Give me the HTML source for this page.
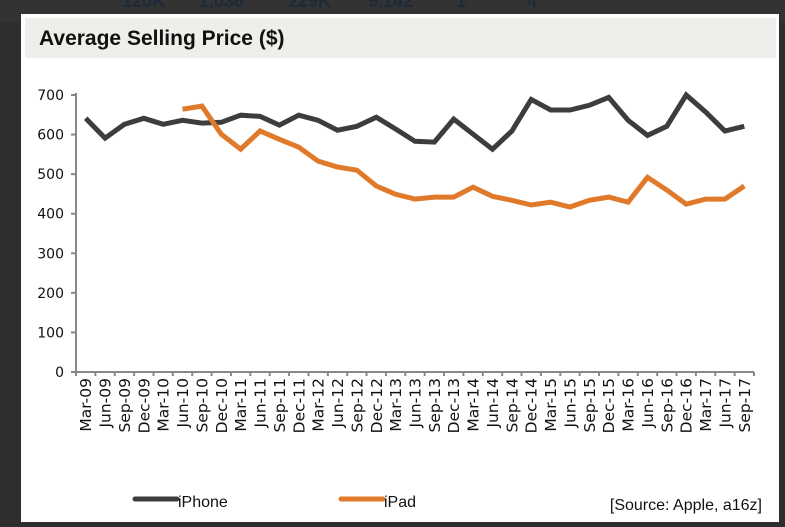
<!DOCTYPE html>
<html><head><meta charset="utf-8"><style>
body{margin:0;width:785px;height:527px;background:#2e2e2e;overflow:hidden;font-family:"Liberation Sans",sans-serif;position:relative}
#strip{position:absolute;left:0;top:0;width:785px;height:22px;background:#333}
#strip span{position:absolute;top:-9px;font-size:18px;font-weight:bold;color:#1c2a3a}
#panel{position:absolute;left:21px;top:14px;width:758px;height:508px;background:#fff}
#titlebar{position:absolute;left:4px;top:4px;width:751px;height:40px;background:#efeeeb}
#title{position:absolute;left:14px;top:9px;font-size:21px;font-weight:bold;color:#111}
</style></head><body>
<div id="strip">
<span style="left:122px">120K</span><span style="left:199px">1,036</span><span style="left:288px">229K</span><span style="left:368px">9,142</span><span style="left:456px">1</span><span style="left:527px">4</span></div>
<div id="panel">
<div id="titlebar"><div id="title">Average Selling Price ($)</div></div>
</div>
<svg id="chart" width="785" height="527" style="position:absolute;left:0;top:0"></svg>
<script>
const categories=["Mar-09","Jun-09","Sep-09","Dec-09","Mar-10","Jun-10","Sep-10","Dec-10","Mar-11","Jun-11","Sep-11","Dec-11","Mar-12","Jun-12","Sep-12","Dec-12","Mar-13","Jun-13","Sep-13","Dec-13","Mar-14","Jun-14","Sep-14","Dec-14","Mar-15","Jun-15","Sep-15","Dec-15","Mar-16","Jun-16","Sep-16","Dec-16","Mar-17","Jun-17","Sep-17"];
const iphone=[641,591,626,641,626,636,629,631,649,646,624,649,636,611,621,644,614,583,581,639,601,563,609,689,662,662,674,694,636,598,621,700,657,609,621];
const ipad=[null,null,null,null,null,664,672,601,563,609,588,568,533,518,510,470,449,437,442,442,467,444,434,422,429,417,434,442,429,492,460,424,437,437,470];
const yTicks=[0,100,200,300,400,500,600,700];
const NS="http://www.w3.org/2000/svg";
const svg=document.getElementById('chart');
const x0=76,x1=754,y0=372,yTop=95;
const step=(x1-x0)/categories.length;
const xs=i=>x0+step*(i+0.5);
const ys=v=>y0-(v/700)*(y0-yTop);
function mk(t,a){const e=document.createElementNS(NS,t);for(const k in a)e.setAttribute(k,a[k]);svg.appendChild(e);return e;}
const ya=mk('line',{x1:x0,x2:x0,y1:yTop-2,y2:y0,stroke:'#888','stroke-width':2});


const xa=mk('line',{x1:x0,x2:x1,y1:y0,y2:y0,stroke:'#888','stroke-width':2});


yTicks.forEach(v=>{
 mk('line',{x1:x0-5,x2:x0,y1:ys(v),y2:ys(v),stroke:'#888','stroke-width':2});
 const t=mk('text',{x:x0-12,y:ys(v)+5,'text-anchor':'end','font-size':14,'font-family':'DejaVu Sans, sans-serif',fill:'#111'});
 t.textContent=v;
 
 
});
categories.forEach((c,i)=>{
 const tx=x0+step*i;
 mk('line',{x1:tx,x2:tx,y1:y0,y2:y0+4,stroke:'#888','stroke-width':2});
 const px=xs(i)+5.5,py=y0+6;
 const t=mk('text',{x:px,y:py,'text-anchor':'end','font-size':15.5,'font-family':'DejaVu Sans, sans-serif',fill:'#111',transform:`rotate(-90 ${px} ${py})`});
 t.textContent=c;
 
 
});
mk('line',{x1:x1,x2:x1,y1:y0,y2:y0+4,stroke:'#888','stroke-width':2});
function series(arr,color,name){
 let d='';let started=false;
 arr.forEach((v,i)=>{if(v==null)return;d+=(started?'L':'M')+xs(i).toFixed(1)+','+ys(v).toFixed(1);started=true;});
 const p=mk('path',{d:d,fill:'none',stroke:color,'stroke-width':5,'stroke-linejoin':'miter'});
 
 
}
series(iphone,'#3d3d3d','iphone-line');
series(ipad,'#e07a2a','ipad-line');
function legend(x,color,label,name){
 const g=mk('g',{});
 
 
 const l=document.createElementNS(NS,'line');
 [['x1',x],['x2',x+42],['y1',499],['y2',499],['stroke',color],['stroke-width',5],['stroke-linecap','round']].forEach(a=>l.setAttribute(a[0],a[1]));
 g.appendChild(l);
 const t=document.createElementNS(NS,'text');
 [['x',x+43],['y',507],['font-size',16],['fill','#111']].forEach(a=>t.setAttribute(a[0],a[1]));
 t.textContent=label;g.appendChild(t);
}
legend(135,'#3d3d3d','iPhone','legend-iphone');
legend(341,'#e07a2a','iPad','legend-ipad');
const s=mk('text',{x:762,y:510,'text-anchor':'end','font-size':16,fill:'#111'});
s.textContent='[Source: Apple, a16z]';


</script>
</body></html>
